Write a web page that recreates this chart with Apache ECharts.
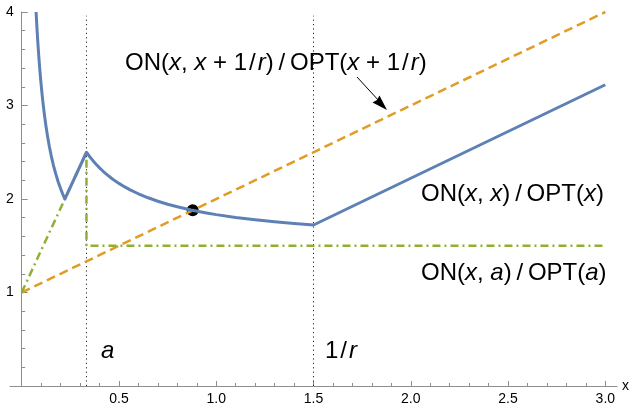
<!DOCTYPE html>
<html>
<head>
<meta charset="utf-8">
<script src="https://cdn.jsdelivr.net/npm/echarts@6/dist/echarts.min.js"></script>
<style>
  html, body { margin: 0; padding: 0; background: #fff; }
  #main { width: 637px; height: 408px; }
</style>
</head>
<body>
<div id="main"></div>
<script>
// 数据
// ON(x, x)/OPT(x) 蓝色实线
const sameX = [0.0741, 0.077, 0.080, 0.084, 0.088, 0.093, 0.098, 0.104, 0.110, 0.117, 0.125, 0.133, 0.142, 0.152, 0.163, 0.175, 0.188, 0.200, 0.211, 0.222,
    0.333, 0.34, 0.35, 0.36, 0.37, 0.38, 0.39, 0.40, 0.42, 0.44, 0.46, 0.48, 0.50, 0.53, 0.56, 0.60, 0.65, 0.70, 0.75, 0.80, 0.87, 0.95, 1.00, 1.10, 1.20, 1.30, 1.40, 1.50,
    3.00]
const sameY = [4.000, 3.886, 3.778, 3.645, 3.525, 3.389, 3.268, 3.137, 3.020, 2.899, 2.778, 2.671, 2.565, 2.462, 2.363, 2.270, 2.182, 2.111, 2.053, 2.000,
    2.500, 2.480, 2.452, 2.426, 2.401, 2.377, 2.355, 2.333, 2.294, 2.258, 2.225, 2.194, 2.167, 2.129, 2.095, 2.056, 2.013, 1.976, 1.944, 1.917, 1.883, 1.851, 1.833, 1.803, 1.778, 1.756, 1.738, 1.722,
    3.222]
// ON(x, x+1/r)/OPT(x+1/r) 橙色虚线
const shiftX = [0, 3]
const shiftY = [1, 4]
// ON(x, a)/OPT(a) 绿色点划线
const fixedX = [0, 0.333, 0.333, 3]
const fixedY = [1, 2.5, 1.5, 1.5]
// 竖线 a 和 1/r
const markXs = [0.333, 1.5]
const markTop = 3.96
// 交点
const crossPoint = [0.879, 1.879]
// 刻度
const xMajor = [0.5, 1.0, 1.5, 2.0, 2.5, 3.0]
const xMinor = [0.1, 0.2, 0.3, 0.4, 0.6, 0.7, 0.8, 0.9, 1.1, 1.2, 1.3, 1.4, 1.6, 1.7, 1.8, 1.9, 2.1, 2.2, 2.3, 2.4, 2.6, 2.7, 2.8, 2.9];

(function () {
    const zip = (xs, ys) => xs.map((x, i) => [x, ys[i]])
    const font = '"Liberation Sans", Arial, sans-serif'
    const chart = echarts.init(document.getElementById('main'))
    const axisGray = '#8c8c8c'
    const T = '\u2009'
    const H = '\u200a'
    // 文字标注
    const note = (x, y, text) => ({
        type: 'text',
        style: {
            x: x, y: y, text: text,
            verticalAlign: 'middle',
            font: '24px ' + font, fill: '#000',
            rich: { i: { fontStyle: 'italic', fontSize: 24, fontFamily: font } }
        }
    })
    // x 轴范围 -0.06 ~ 3.06，y 轴放到 x = 0 处
    const xMin = -0.06
    const xMax = 3.06
    const gridLeft = 10
    const gridRight = 20
    const yOffset = -(0 - xMin) / (xMax - xMin) * (637 - gridLeft - gridRight)

    const option = {
        animation: false,
        grid: { left: gridLeft, right: gridRight, top: 12, bottom: 22, containLabel: false, outerBoundsMode: 'none' },
        xAxis: [
            {
                type: 'value',
                min: xMin,
                max: xMax,
                name: 'x',
                nameGap: 5,
                nameTextStyle: { color: '#000', fontSize: 14, fontFamily: font },
                axisLine: { onZero: false, lineStyle: { color: axisGray, width: 1 } },
                axisTick: { inside: true, length: 5, customValues: xMajor, lineStyle: { color: axisGray } },
                axisLabel: {
                    customValues: xMajor,
                    formatter: v => v.toFixed(1),
                    color: '#000', fontSize: 14, fontFamily: font, margin: 6
                },
                splitLine: { show: false }
            },
            {
                // 次刻度
                type: 'value',
                min: xMin,
                max: xMax,
                position: 'bottom',
                axisLine: { show: false, onZero: false },
                axisTick: { inside: true, length: 3, customValues: xMinor, lineStyle: { color: axisGray } },
                axisLabel: { show: false },
                splitLine: { show: false }
            }
        ],
        yAxis: {
            type: 'value',
            min: 0,
            max: 4,
            interval: 1,
            offset: yOffset,
            axisLine: { show: true, onZero: false, lineStyle: { color: axisGray, width: 1 } },
            axisTick: { show: true, inside: true, length: 6, lineStyle: { color: axisGray } },
            minorTick: { show: true, splitNumber: 5, length: 3.5, lineStyle: { color: axisGray } },
            axisLabel: { showMinLabel: false, color: '#000', fontSize: 14, fontFamily: font, margin: 8 },
            splitLine: { show: false }
        },
        series: [
            ...markXs.map(x => ({
                type: 'line',
                data: [[x, 0], [x, markTop]],
                symbol: 'none',
                silent: true,
                lineStyle: { color: '#222', width: 1, type: [1.2, 3.2] }
            })),
            {
                type: 'line',
                data: zip(shiftX, shiftY),
                symbol: 'none',
                lineStyle: { color: '#e19c24', width: 2.5, type: [9, 5] }
            },
            {
                type: 'line',
                data: zip(fixedX, fixedY),
                symbol: 'none',
                lineStyle: { color: '#8fb032', width: 2.5, type: [8, 4, 2, 4] }
            },
            {
                type: 'line',
                data: zip(sameX, sameY),
                symbol: 'none',
                lineStyle: { color: '#5e81b5', width: 3, join: 'round' }
            },
            {
                type: 'scatter',
                data: [crossPoint],
                symbolSize: 12,
                itemStyle: { color: '#000', opacity: 1 }
            }
        ],
        graphic: [
            note(125, 63, 'ON({i|x}, {i|x} + 1' + H + '/' + H + '{i|r})' + T + '/' + T + 'OPT({i|x} + 1' + H + '/' + H + '{i|r})'),
            note(421, 194, 'ON({i|x}, {i|x})' + T + '/' + T + 'OPT({i|x})'),
            note(421, 273, 'ON({i|x}, {i|a})' + T + '/' + T + 'OPT({i|a})'),
            note(101, 351, '{i|a}'),
            note(325, 351, '1' + H + '/' + H + '{i|r}'),
            // 箭头
            {
                type: 'line',
                shape: { x1: 357, y1: 77, x2: 380, y2: 102 },
                style: { stroke: '#000', lineWidth: 1 }
            },
            {
                type: 'polygon',
                shape: { points: [[387, 110], [372.5, 102.5], [377, 100], [379.5, 95.5]] },
                style: { fill: '#000' }
            }
        ]
    }
    chart.setOption(option)
})()
</script>
</body>
</html>
